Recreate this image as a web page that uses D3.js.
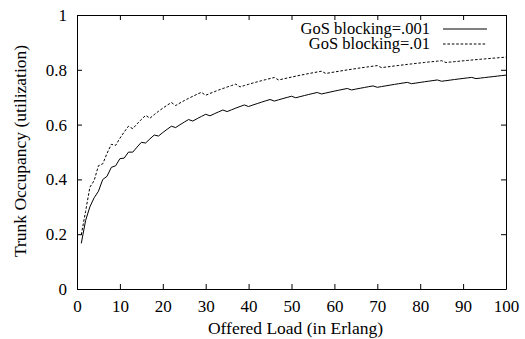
<!DOCTYPE html>
<html>
<head>
<meta charset="utf-8">
<script src="https://cdn.jsdelivr.net/npm/d3@7/dist/d3.min.js"></script>
<style>
  html, body { margin: 0; padding: 0; background: #fff; }
  svg { display: block; }
  text { font-family: "Liberation Serif", "Times New Roman", serif; fill: #000; }
</style>
</head>
<body>
<svg id="chart" width="525" height="339"></svg>
<script>
// Offered load (Erlang)
const offeredLoad = [
  1,2,3,4,5,6,7,8,9,10,11,12,13,14,15,16,17,18,19,20,
  21,22,23,24,25,26,27,28,29,30,31,32,33,34,35,36,37,38,39,40,
  41,42,43,44,45,46,47,48,49,50,51,52,53,54,55,56,57,58,59,60,
  61,62,63,64,65,66,67,68,69,70,71,72,73,74,75,76,77,78,79,80,
  81,82,83,84,85,86,87,88,89,90,91,92,93,94,95,96,97,98,99,100
];
// Trunk occupancy, GoS blocking = .001
const occupancy001 = [
  0.1665,0.2498,0.2997,0.3330,0.3568,0.3996,0.4114,0.4440,0.4496,0.4757,
  0.4778,0.4995,0.4995,0.5180,0.5352,0.5328,0.5478,0.5619,0.5583,0.5709,
  0.5828,0.5940,0.5892,0.5994,0.6091,0.6184,0.6130,0.6216,0.6298,0.6377,
  0.6320,0.6394,0.6464,0.6532,0.6475,0.6539,0.6601,0.6660,0.6717,0.6660,
  0.6715,0.6767,0.6819,0.6868,0.6916,0.6859,0.6905,0.6950,0.6993,0.7035,
  0.6979,0.7020,0.7060,0.7098,0.7136,0.7172,0.7118,0.7153,0.7188,0.7222,
  0.7255,0.7287,0.7318,0.7265,0.7296,0.7326,0.7355,0.7384,0.7412,0.7361,
  0.7388,0.7415,0.7441,0.7467,0.7493,0.7517,0.7541,0.7493,0.7516,0.7540,
  0.7563,0.7585,0.7607,0.7629,0.7582,0.7603,0.7624,0.7645,0.7665,0.7685,
  0.7704,0.7723,0.7678,0.7697,0.7716,0.7734,0.7752,0.7770,0.7788,0.7805
];
// Trunk occupancy, GoS blocking = .01
const occupancy01 = [
  0.1980,0.2829,0.3713,0.3960,0.4500,0.4569,0.4950,0.5280,0.5241,0.5500,
  0.5732,0.5940,0.5850,0.6026,0.6188,0.6336,0.6233,0.6364,0.6486,0.6600,
  0.6706,0.6806,0.6697,0.6789,0.6875,0.6957,0.7034,0.7108,0.7178,0.7071,
  0.7137,0.7200,0.7260,0.7317,0.7372,0.7425,0.7476,0.7376,0.7425,0.7472,
  0.7517,0.7560,0.7602,0.7642,0.7681,0.7719,0.7628,0.7665,0.7700,0.7734,
  0.7768,0.7800,0.7831,0.7862,0.7891,0.7920,0.7948,0.7866,0.7893,0.7920,
  0.7946,0.7971,0.7996,0.8020,0.8044,0.8067,0.8089,0.8111,0.8132,0.8153,
  0.8079,0.8100,0.8120,0.8140,0.8159,0.8178,0.8197,0.8215,0.8233,0.8250,
  0.8267,0.8284,0.8300,0.8316,0.8332,0.8266,0.8282,0.8297,0.8312,0.8327,
  0.8342,0.8356,0.8370,0.8384,0.8397,0.8411,0.8424,0.8437,0.8449,0.8462
];
const seriesNames = ["GoS blocking=.001", "GoS blocking=.01"];
const xTickValues = [0,10,20,30,40,50,60,70,80,90,100];
const yTickValues = [0,0.2,0.4,0.6,0.8,1];
const yTickLabels = ["0","0.2","0.4","0.6","0.8","1"];
const xTitle = "Offered Load (in Erlang)";
const yTitle = "Trunk Occupancy (utilization)";

const W = 525, H = 339;
const margin = {left: 77, right: 19, top: 15, bottom: 50};
const pw = W - margin.left - margin.right;
const ph = H - margin.top - margin.bottom;

const svg = d3.select("#chart");
const g = svg.append("g").attr("transform", `translate(${margin.left},${margin.top})`);

const x = d3.scaleLinear().domain([0, 100]).range([0, pw]);
const y = d3.scaleLinear().domain([0, 1]).range([ph, 0]);

const fs = "17px";
const tickLen = 5;

// bottom axis with labels
const gx = g.append("g").attr("transform", `translate(0,${ph})`)
  .call(d3.axisBottom(x).tickValues(xTickValues).tickSizeInner(-tickLen).tickSizeOuter(0).tickPadding(11).tickFormat(d3.format("d")));
// left axis with labels
const gy = g.append("g")
  .call(d3.axisLeft(y).tickValues(yTickValues).tickSizeInner(-tickLen).tickSizeOuter(0).tickPadding(10)
    .tickFormat((d, i) => yTickLabels[i]));
// mirrored top & right
const gt = g.append("g")
  .call(d3.axisTop(x).tickValues(xTickValues).tickSizeInner(-tickLen).tickSizeOuter(0).tickFormat(""));
const gr = g.append("g").attr("transform", `translate(${pw},0)`)
  .call(d3.axisRight(y).tickValues(yTickValues).tickSizeInner(-tickLen).tickSizeOuter(0).tickFormat(""));

[gx, gy, gt, gr].forEach(a => {
  a.selectAll("text").style("font-size", fs).style("font-family", '"Liberation Serif", serif').attr("fill", "#000");
  a.selectAll("line").attr("stroke", "#000").attr("stroke-width", 1);
  a.select(".domain").attr("stroke", "#000").attr("stroke-width", 1);
});

// lines
const line = d3.line().x((d, i) => x(offeredLoad[i])).y(d => y(d));
g.append("path").datum(occupancy001)
  .attr("d", line).attr("fill", "none").attr("stroke", "#000").attr("stroke-width", 1);
g.append("path").datum(occupancy01)
  .attr("d", line).attr("fill", "none").attr("stroke", "#000").attr("stroke-width", 1)
  .attr("stroke-dasharray", "2.6,1.8");

// legend
const legend = [
  {name: seriesNames[0], dash: null, y: 14},
  {name: seriesNames[1], dash: "2.6,1.8", y: 29}
];
legend.forEach(l => {
  g.append("text").attr("x", 430 - margin.left).attr("y", l.y).attr("dy", "0.32em")
    .attr("text-anchor", "end").style("font-size", "16.5px").text(l.name);
  g.append("line").attr("x1", 443 - margin.left).attr("x2", 487 - margin.left)
    .attr("y1", l.y).attr("y2", l.y).attr("stroke", "#000").attr("stroke-width", 1)
    .attr("stroke-dasharray", l.dash);
});

// axis titles
svg.append("text").attr("x", margin.left + pw / 2 + 4).attr("y", 334)
  .attr("text-anchor", "middle").style("font-size", "17.5px").text(xTitle);
svg.append("text").attr("transform", `translate(26,151) rotate(-90)`)
  .attr("text-anchor", "middle").style("font-size", "17.5px").text(yTitle);
</script>
</body>
</html>
